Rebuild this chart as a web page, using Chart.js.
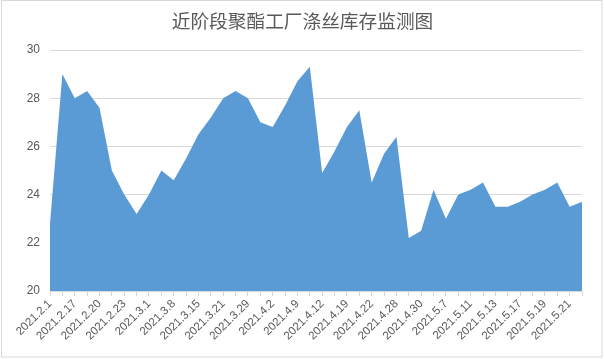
<!DOCTYPE html>
<html><head><meta charset="utf-8">
<script src="https://cdn.jsdelivr.net/npm/chart.js@4/dist/chart.umd.min.js"></script>
<style>html,body{margin:0;padding:0;background:#fff;}#wrap{width:604px;height:359px;}</style>
</head><body><div id="wrap"><canvas id="c" width="604" height="359"></canvas></div>
<script>
const title = '近阶段聚酯工厂涤丝库存监测图';
// 44 categories; only every other label is shown in the picture (hidden ones unreadable -> empty)
const shownLabels = ['2021.2.1','2021.2.17','2021.2.20','2021.2.23','2021.3.1','2021.3.8','2021.3.15','2021.3.21','2021.3.29','2021.4.2','2021.4.9','2021.4.12','2021.4.19','2021.4.22','2021.4.28','2021.4.30','2021.5.7','2021.5.11','2021.5.13','2021.5.17','2021.5.19','2021.5.21'];
const categories = [];
shownLabels.forEach(l => { categories.push(l); categories.push(''); });
const inventoryDays = [22.8,29.0,28.0,28.3,27.6,25.0,24.0,23.2,24.0,25.0,24.6,25.5,26.5,27.2,28.0,28.3,28.0,27.0,26.8,27.7,28.7,29.3,24.9,25.8,26.8,27.5,24.5,25.7,26.4,22.2,22.5,24.2,23.0,24.0,24.2,24.5,23.5,23.5,23.7,24.0,24.2,24.5,23.5,23.7];
const yTicks = {min:20, max:30, step:2};

const frame = {
  id:'frame',
  beforeDraw(chart){
    const c = chart.ctx;
    c.save();
    c.fillStyle='#fff'; c.fillRect(0,0,chart.width,chart.height);
    c.strokeStyle='#d9d9d9'; c.lineWidth=1;
    c.strokeRect(1.5,0.5,600.5,356.5);
    c.fillStyle='#595959';
    c.font='18.7px "Noto Sans CJK SC"';
    c.textAlign='center'; c.textBaseline='middle';
    c.fillText(title,302.5,21);
    c.restore();
  }
};

new Chart(document.getElementById('c'), {
  type:'line',
  data:{labels:categories, datasets:[{data:inventoryDays, fill:'origin', backgroundColor:'#5b9bd5', borderColor:'#5b9bd5', borderWidth:0, pointRadius:0, tension:0}]},
  options:{
    responsive:false, animation:false, devicePixelRatio:1,
    layout:{padding:{top:50,right:22,left:0,bottom:0}},
    plugins:{legend:{display:false}, title:{display:false}, tooltip:{enabled:false}},
    scales:{
      x:{
        offset:false,
        grid:{display:true, drawOnChartArea:false, drawTicks:true, tickLength:5, color:'#d9d9d9'},
        border:{display:true, color:'#d9d9d9'},
        ticks:{autoSkip:false, maxRotation:45, minRotation:45, padding:1, color:'#595959', font:{family:'"Liberation Sans"', size:11.5},
          callback:(v,i)=>categories[i]},
        afterFit(s){ s.height = 68; }
      },
      y:{
        min:yTicks.min, max:yTicks.max,
        grid:{color:'#d9d9d9', drawTicks:false},
        border:{display:false},
        ticks:{stepSize:yTicks.step, padding:10, color:'#595959', font:{family:'"Liberation Sans"', size:12}},
        afterFit(s){ s.width = 50; }
      }
    }
  },
  plugins:[frame]
});
</script></body></html>
